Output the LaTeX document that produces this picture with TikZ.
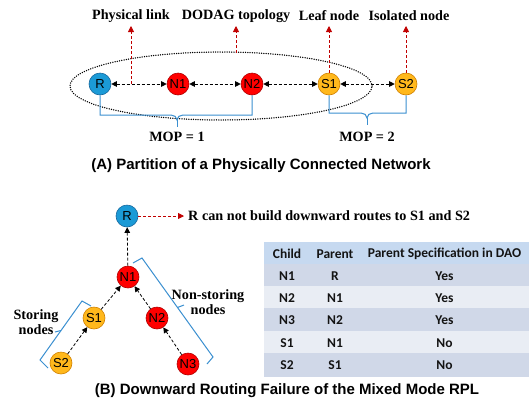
\documentclass[tikz,border=0pt]{standalone}
\usepackage{fontspec}
\setmainfont{Liberation Serif}
\newfontfamily\arialf{Liberation Sans}
\newfontfamily\calf{Carlito}
\usetikzlibrary{arrows.meta}
\definecolor{rblue}{HTML}{1B9AD6}
\definecolor{rblueB}{HTML}{17689E}
\definecolor{nred}{HTML}{FF0000}
\definecolor{nredB}{HTML}{B00000}
\definecolor{sorange}{HTML}{FFB81C}
\definecolor{sorangeB}{HTML}{D08000}
\definecolor{bracecol}{HTML}{3A8FD0}
\definecolor{darkred}{HTML}{C00000}
\definecolor{thead}{HTML}{C6D9F0}
\definecolor{tdark}{HTML}{D0D8E8}
\definecolor{tlight}{HTML}{E9EDF4}
\tikzset{
  nd/.style={circle, minimum size=22pt, inner sep=0pt, line width=0.6pt, font=\arialf\fontsize{13}{14}\selectfont},
  rnode/.style={nd, fill=rblue, draw=rblueB},
  nnode/.style={nd, fill=nred, draw=nredB},
  snode/.style={nd, fill=sorange, draw=sorangeB},
  link/.style={dashed, dash pattern=on 3pt off 2pt, line width=0.8pt, {Triangle[length=5.5pt,width=5.5pt]}-{Triangle[length=5.5pt,width=5.5pt]}},
  tarr/.style={dashed, dash pattern=on 3pt off 2pt, line width=0.8pt, -{Triangle[length=5.5pt,width=5.5pt]}},
  rarr/.style={dashed, dash pattern=on 3pt off 2pt, darkred, line width=0.8pt, -{Triangle[length=6pt,width=6pt]}},
  lbl/.style={font=\bfseries\fontsize{14.2}{16}\selectfont, inner sep=1pt},
  capt/.style={font=\arialf\bfseries\fontsize{15}{17}\selectfont},
  bracket/.style={bracecol, line width=1pt},
  cell/.style={font=\calf\bfseries\fontsize{13.5}{15}\selectfont, text=black!92},
}
\begin{document}
\begin{tikzpicture}[x=1pt, y=-1pt]
\useasboundingbox (0,0) rectangle (532,408);

% ---------- Part A ----------
\draw[line width=1.5pt, dash pattern=on 0pt off 2.3pt, line cap=round] (221,86) ellipse [x radius=151pt, y radius=34pt];

\node[rnode] (aR)  at (100,84) {R};
\node[nnode] (aN1) at (178,84) {N1};
\node[nnode] (aN2) at (252,84) {N2};
\node[snode] (aS1) at (329,84) {S1};
\node[snode] (aS2) at (406,84) {S2};

\draw[link] (aR) -- (aN1);
\draw[link] (aN1) -- (aN2);
\draw[link] (aN2) -- (aS1);
\draw[link] (aS1) -- (aS2);

\node[lbl] (lPL) at (131,16) {Physical link};
\node[lbl] (lDT) at (236,16) {DODAG topology};
\node[lbl] (lLN) at (329,16) {Leaf node};
\node[lbl] (lIN) at (409,16) {Isolated node};

\coordinate (cPL) at (131,84);
\coordinate (cDT) at (236,53);
\coordinate (tPL) at (131,26);
\coordinate (tDT) at (236,26);
\coordinate (tLN) at (329,26);
\coordinate (tIN) at (406,26);
\draw[rarr] (cPL) -- (tPL);
\draw[rarr] (cDT) -- (tDT);
\draw[rarr] (aS1) -- (tLN);
\draw[rarr] (aS2) -- (tIN);

% MOP braces
\draw[bracket] (aR.south) -- (100,115) -- (171,115) to[out=0,in=90] (177,120) to[out=90,in=180] (183,115) -- (252,115) -- (aN2.south);
\draw[bracket] (177,120) -- (177,127);
\node[lbl] (mop1) at (177,137) {MOP = 1};

\draw[bracket] (aS1.south) -- (329,113) -- (361,113) to[out=0,in=90] (367,118) to[out=90,in=180] (373,113) -- (406,113) -- (aS2.south);
\draw[bracket] (367,118) -- (367,125);
\node[lbl] (mop2) at (367,137) {MOP = 2};

\node[capt] (capA) at (261,166) {(A) Partition of a Physically Connected Network};

% ---------- Part B ----------
\node[rnode] (bR)  at (127,216) {R};
\node[nnode] (bN1) at (128,277) {N1};
\node[snode] (bS1) at (94,318) {S1};
\node[nnode] (bN2) at (157,318) {N2};
\node[snode] (bS2) at (61,363) {S2};
\node[nnode] (bN3) at (188,364) {N3};

\draw[tarr] (bN1) -- (bR);
\draw[tarr] (bS1) -- (bN1);
\draw[tarr] (bN2) -- (bN1);
\draw[tarr] (bS2) -- (bS1);
\draw[tarr] (bN3) -- (bN2);

\coordinate (tR) at (184,216);
\draw[rarr] (bR) -- (tR);
\node[lbl, anchor=west] (rtext) at (187,216) {R can not build downward routes to S1 and S2};

% storing bracket
\draw[bracket] (48,368) -- (40,360) -- (82,301) -- (91,306);
\draw[bracket] (61,330.5) -- (55,332);
\node[lbl, align=center, font=\bfseries\fontsize{14.2}{15.5}\selectfont] (stor) at (36,322) {Storing\\nodes};

% non-storing bracket
\draw[bracket] (133,263) -- (142,258) -- (213,357) -- (207,364);
\draw[bracket] (177.5,307.5) -- (184,305);
\node[lbl, align=center, font=\bfseries\fontsize{14.2}{15.5}\selectfont] (nstor) at (208,302) {Non-storing\\nodes};

% table
\begin{scope}[every path/.style={draw=white, line width=1.2pt}]
\fill[thead] (265,243) rectangle (309,265);
\fill[thead] (309,243) rectangle (361,265);
\fill[thead] (361,243) rectangle (528,265);
\foreach \ya/\yb/\c in {265/287/tdark, 287/309/tlight, 309/332/tdark, 332/354/tlight, 354/376/tdark}{
  \fill[\c] (265,\ya) rectangle (309,\yb);
  \fill[\c] (309,\ya) rectangle (361,\yb);
  \fill[\c] (361,\ya) rectangle (528,\yb);
}
\end{scope}

\node[cell] (h1) at (287,254) {Child};
\node[cell] (h2) at (335,254) {Parent};
\node[cell] (h3) at (444.5,254) {Parent Specification in DAO};

\node[cell] (r1a) at (287,276) {N1};
\node[cell] (r1b) at (335,276) {R};
\node[cell] (r1c) at (444.5,276) {Yes};
\node[cell] (r2a) at (287,298) {N2};
\node[cell] (r2b) at (335,298) {N1};
\node[cell] (r2c) at (444.5,298) {Yes};
\node[cell] (r3a) at (287,320.5) {N3};
\node[cell] (r3b) at (335,320.5) {N2};
\node[cell] (r3c) at (444.5,320.5) {Yes};
\node[cell] (r4a) at (287,343) {S1};
\node[cell] (r4b) at (335,343) {N1};
\node[cell] (r4c) at (444.5,343) {No};
\node[cell] (r5a) at (287,365) {S2};
\node[cell] (r5b) at (335,365) {S1};
\node[cell] (r5c) at (444.5,365) {No};

\node[capt] (capB) at (287,391) {(B) Downward Routing Failure of the Mixed Mode RPL};
\end{tikzpicture}
\end{document}
